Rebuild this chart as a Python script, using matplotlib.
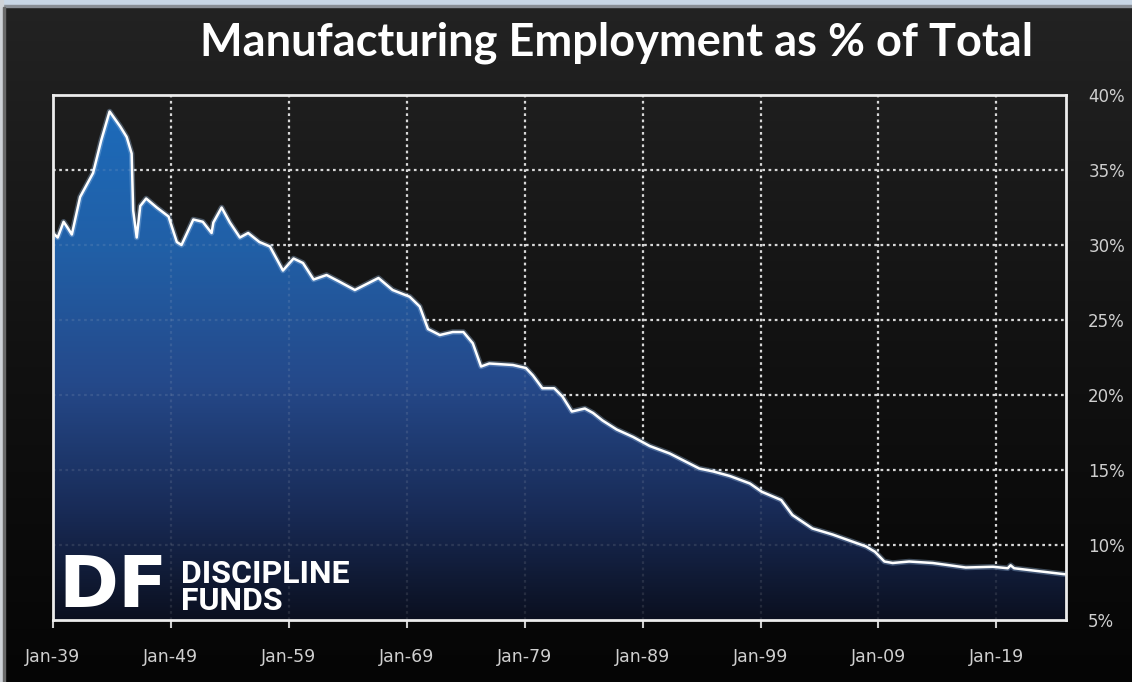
import numpy as np
import matplotlib.pyplot as plt
from matplotlib.colors import LinearSegmentedColormap
from matplotlib.patches import Polygon, Rectangle

# manufacturing share of total nonfarm employment (%), read at decimal years
years = [1939.0, 1939.4, 1939.9, 1940.2, 1940.6, 1941.3, 1942.4, 1943.1, 1943.8, 1944.7,
         1945.25, 1945.67, 1945.8, 1946.1, 1946.4, 1946.9, 1947.8, 1948.8, 1949.5, 1949.9,
         1950.9, 1951.7, 1952.45, 1952.6, 1953.3, 1954.0, 1954.85, 1955.55, 1956.5, 1957.4,
         1958.5, 1959.4, 1960.2, 1961.1, 1962.2, 1963.3, 1964.6, 1966.6, 1967.8, 1969.25,
         1970.1, 1970.8, 1971.8, 1972.9, 1973.8, 1974.6, 1975.3, 1976.0, 1978.0, 1979.1,
         1979.7, 1980.5, 1981.5, 1982.2, 1983.0, 1984.1, 1984.8, 1985.6, 1986.8, 1988.2,
         1989.6, 1991.3, 1993.8, 1995.0, 1996.4, 1998.1, 1999.1, 2000.75, 2001.7, 2003.4,
         2005.1, 2007.95, 2008.7, 2009.5, 2010.2, 2011.6, 2013.6, 2016.4, 2018.7, 2019.96,
         2020.2, 2020.5, 2022.1, 2024.8]
share = [30.8, 30.5, 31.55, 31.2, 30.7, 33.2, 34.8, 37.0, 38.9, 37.9,
         37.2, 36.1, 32.3, 30.5, 32.6, 33.1, 32.5, 31.9, 30.2, 30.0,
         31.7, 31.55, 30.8, 31.5, 32.5, 31.5, 30.5, 30.8, 30.2, 29.9,
         28.3, 29.1, 28.8, 27.7, 28.0, 27.55, 27.0, 27.8, 27.0, 26.55,
         25.9, 24.4, 24.0, 24.2, 24.2, 23.45, 21.9, 22.1, 22.0, 21.8,
         21.3, 20.45, 20.45, 19.9, 18.9, 19.1, 18.8, 18.3, 17.7, 17.2,
         16.6, 16.1, 15.1, 14.9, 14.6, 14.1, 13.55, 13.0, 12.0, 11.1,
         10.7, 9.9, 9.55, 8.9, 8.8, 8.9, 8.8, 8.5, 8.55, 8.45,
         8.65, 8.45, 8.3, 8.05]

tick_years = [1939, 1949, 1959, 1969, 1979, 1989, 1999, 2009, 2019]
tick_labels = ["Jan-39", "Jan-49", "Jan-59", "Jan-69", "Jan-79",
               "Jan-89", "Jan-99", "Jan-09", "Jan-19"]
pct_ticks = [5, 10, 15, 20, 25, 30, 35, 40]
pct_labels = ["5%", "10%", "15%", "20%", "25%", "30%", "35%", "40%"]

fig = plt.figure(figsize=(11.32, 6.82), dpi=100)

# backdrop: dark grey fading to black, with the thin frame strips
bg = fig.add_axes([0, 0, 1, 1], zorder=-10)
bg_cmap = LinearSegmentedColormap.from_list("bg", ["#050505", "#121212", "#232323"])
bg.imshow(np.linspace(0, 1, 256).reshape(-1, 1), cmap=bg_cmap, aspect="auto",
          origin="lower", extent=[0, 1, 0, 1])
bg.add_patch(Rectangle((0, 0.9927), 1, 0.0073, color="#c9d7e6"))
bg.add_patch(Rectangle((0, 0.99), 1, 0.003, color="#8a8f96"))
bg.add_patch(Rectangle((0, 0), 0.0027, 1, color="#cfd3d8"))
bg.add_patch(Rectangle((0.0027, 0), 0.0018, 0.99, color="#6a6a6a"))
bg.set_xlim(0, 1)
bg.set_ylim(0, 1)
bg.axis("off")

ax = fig.add_axes([0.0468, 0.0909, 0.8949, 0.7698])
ax.set_facecolor("none")

x0, x1 = 1939, 2024.9
ymin, ymax = 5, 40

# blue gradient clipped to the area under the curve
fill_cmap = LinearSegmentedColormap.from_list(
    "fill", [(0.0, "#0b1020"), (0.2, "#182a55"), (0.45, "#25498a"),
             (0.7, "#215fa6"), (1.0, "#1c6cbc")])
grad = np.linspace(0, 1, 256).reshape(-1, 1)
im = ax.imshow(grad, cmap=fill_cmap, aspect="auto", origin="lower",
               extent=[x0, x1, ymin, ymax], zorder=2)
verts = np.vstack([[years[0], ymin], np.column_stack([years, share]), [years[-1], ymin]])
area = Polygon(verts, closed=True, facecolor="none", edgecolor="none", transform=ax.transData)
ax.add_patch(area)
im.set_clip_path(area)

# white series line with a faint halo
ax.plot(years, share, color="#9fc3ea", linewidth=4, alpha=0.35, zorder=3,
        solid_joinstyle="round")
ax.plot(years, share, color="white", linewidth=1.8, zorder=4, solid_joinstyle="round")

# dotted grid: full strength behind, faint over the fill
dot = (0, (1.2, 1.6))
for yv in pct_ticks[1:-1]:
    ax.axhline(yv, color="#d8d8d8", linewidth=1.6, linestyle=dot, zorder=1)
    ax.axhline(yv, color="#d8d8d8", linewidth=1.6, linestyle=dot, alpha=0.12, zorder=5)
for xv in tick_years[1:]:
    ax.axvline(xv, color="#d8d8d8", linewidth=1.6, linestyle=dot, zorder=1)
    ax.axvline(xv, color="#d8d8d8", linewidth=1.6, linestyle=dot, alpha=0.12, zorder=5)

ax.set_xlim(x0, x1)
ax.set_ylim(ymin, ymax)

for sp in ax.spines.values():
    sp.set_color("#ececec")
    sp.set_linewidth(2)
    sp.set_zorder(6)

ax.set_xticks(tick_years)
ax.set_xticklabels(tick_labels)
ax.tick_params(axis="x", direction="out", length=6, width=1.5, color="#cfcfcf",
               labelcolor="#cfcfcf", labelsize=12.5, pad=14)
ax.yaxis.tick_right()
ax.set_yticks(pct_ticks)
ax.set_yticklabels(pct_labels)
ax.tick_params(axis="y", length=0, labelcolor="#cfcfcf", labelsize=12, pad=16)

fig.text(0.545, 0.938, "Manufacturing Employment as % of Total", color="white",
         fontsize=32.5, fontweight="bold", family="Lato", ha="center", va="center")

# brand mark in the lower left of the plot
fig.text(0.052, 0.138, "DF", color="white", fontsize=52, fontweight="heavy",
         family="DejaVu Sans", ha="left", va="center")
fig.text(0.160, 0.139, "DISCIPLINE\nFUNDS", color="white", fontsize=23, fontweight="bold",
         family="Roboto", ha="left", va="center", linespacing=0.88)

fig.savefig("out.png", dpi=100, facecolor="black")
